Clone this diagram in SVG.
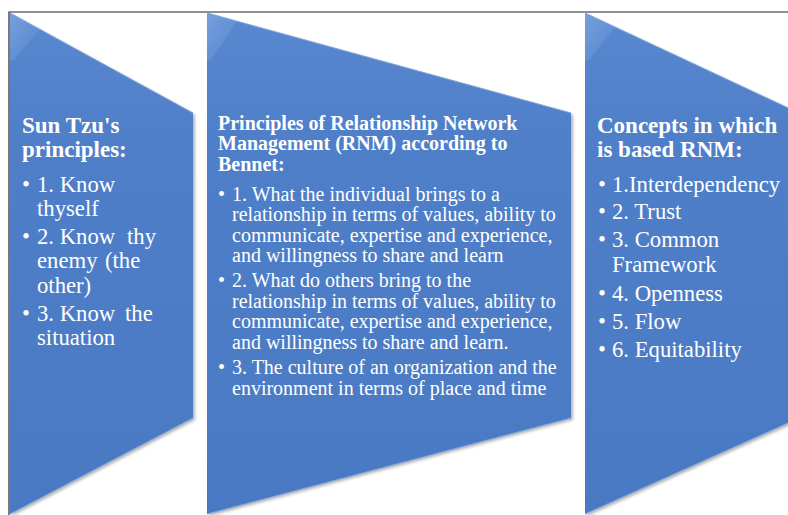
<svg xmlns="http://www.w3.org/2000/svg" width="788" height="515" viewBox="0 0 788 515">
  <defs>
    <linearGradient id="fillGrad" x1="0" y1="0" x2="0" y2="1">
      <stop offset="0" stop-color="#5888D0"/>
      <stop offset="0.25" stop-color="#4F7FC8"/>
      <stop offset="1" stop-color="#4A79C3"/>
    </linearGradient>
    <linearGradient id="cornerGrad" x1="0" y1="0" x2="1" y2="1">
      <stop offset="0" stop-color="#8FB2E6" stop-opacity="0.55"/>
      <stop offset="1" stop-color="#8FB2E6" stop-opacity="0"/>
    </linearGradient>
    <filter id="shadow" x="-10%" y="-10%" width="125%" height="125%">
      <feDropShadow dx="2" dy="2" stdDeviation="1.5" flood-color="#000" flood-opacity="0.3"/>
    </filter>
  </defs>
  <style>
    .shape { fill: url(#fillGrad); filter: url(#shadow); }
    .edge { fill: none; stroke: #7FA4DC; stroke-width: 1; }
    .corner { fill: url(#cornerGrad); }
    .h { font-family: "Liberation Serif", "Times New Roman", serif; font-weight: bold; fill: #FFFFFF; }
    .b { font-family: "Liberation Serif", "Times New Roman", serif; fill: #FFFFFF; }
    .bigh { font-size: 23px; }
    .big { font-size: 22.7px; }
    .mid { font-size: 20px; }
    .frame { fill: none; stroke: #222222; stroke-width: 1.2; }
  </style>
  <rect x="0" y="0" width="788" height="515" fill="#FFFFFF"/>
  <path class="frame" d="M9,515 L9,12 L788,12"/>

  <g id="node-suntzu">
    <polygon class="shape" points="10,13 193,113 193,418 10,514"/>
    <polygon class="corner" points="10,13 40,29 14,60 10,60"/>
    <polyline class="edge" points="10,13 193,113"/>
    <polyline class="edge" points="193,418 10,514"/>
    <text class="h bigh" x="22" y="133">Sun Tzu's</text>
    <text class="h bigh" x="22" y="157">principles:</text>
    <g class="b big">
      <text x="22" y="192">•</text><text x="37" y="192">1. Know</text>
      <text x="37" y="216">thyself</text>
      <text x="22" y="244">•</text><text x="37" y="244">2. Know</text><text x="127" y="244">thy</text>
      <text x="37" y="268">enemy</text><text x="105" y="268">(the</text>
      <text x="37" y="293">other)</text>
      <text x="22" y="321">•</text><text x="37" y="321">3. Know</text><text x="125" y="321">the</text>
      <text x="37" y="345">situation</text>
    </g>
  </g>

  <g id="node-rnm">
    <polygon class="shape" points="207,13 571,113 571,418 207,514"/>
    <polygon class="corner" points="207,13 237,21 211,60 207,60"/>
    <polyline class="edge" points="207,13 571,113"/>
    <polyline class="edge" points="571,418 207,514"/>
    <g class="h mid">
      <text x="218" y="129.5">Principles of Relationship Network</text>
      <text x="218" y="150">Management (RNM) according to</text>
      <text x="218" y="170.5">Bennet:</text>
    </g>
    <g class="b mid">
      <text x="218" y="200.5">•</text><text x="232" y="200.5">1. What the individual brings to a</text>
      <text x="232" y="221">relationship in terms of values, ability to</text>
      <text x="232" y="241.5">communicate, expertise and experience,</text>
      <text x="232" y="262">and willingness to share and learn</text>
      <text x="218" y="287">•</text><text x="232" y="287">2. What do others bring to the</text>
      <text x="232" y="307.5">relationship in terms of values, ability to</text>
      <text x="232" y="328">communicate, expertise and experience,</text>
      <text x="232" y="348.5">and willingness to share and learn.</text>
      <text x="218" y="374">•</text><text x="232" y="374">3. The culture of an organization and the</text>
      <text x="232" y="394.5">environment in terms of place and time</text>
    </g>
  </g>

  <g id="node-concepts">
    <polygon class="shape" points="585,13 799,113 799,418 585,514"/>
    <polygon class="corner" points="585,13 615,27 589,60 585,60"/>
    <polyline class="edge" points="585,13 799,113"/>
    <polyline class="edge" points="799,418 585,514"/>
    <text class="h bigh" x="597" y="133">Concepts in which</text>
    <text class="h bigh" x="597" y="157">is based RNM:</text>
    <g class="b big">
      <text x="598" y="192">•</text><text x="612" y="192">1.Interdependency</text>
      <text x="598" y="219">•</text><text x="612" y="219">2. Trust</text>
      <text x="598" y="247">•</text><text x="612" y="247">3. Common</text>
      <text x="612" y="272">Framework</text>
      <text x="598" y="301">•</text><text x="612" y="301">4. Openness</text>
      <text x="598" y="329">•</text><text x="612" y="329">5. Flow</text>
      <text x="598" y="357">•</text><text x="612" y="357">6. Equitability</text>
    </g>
  </g>
</svg>
